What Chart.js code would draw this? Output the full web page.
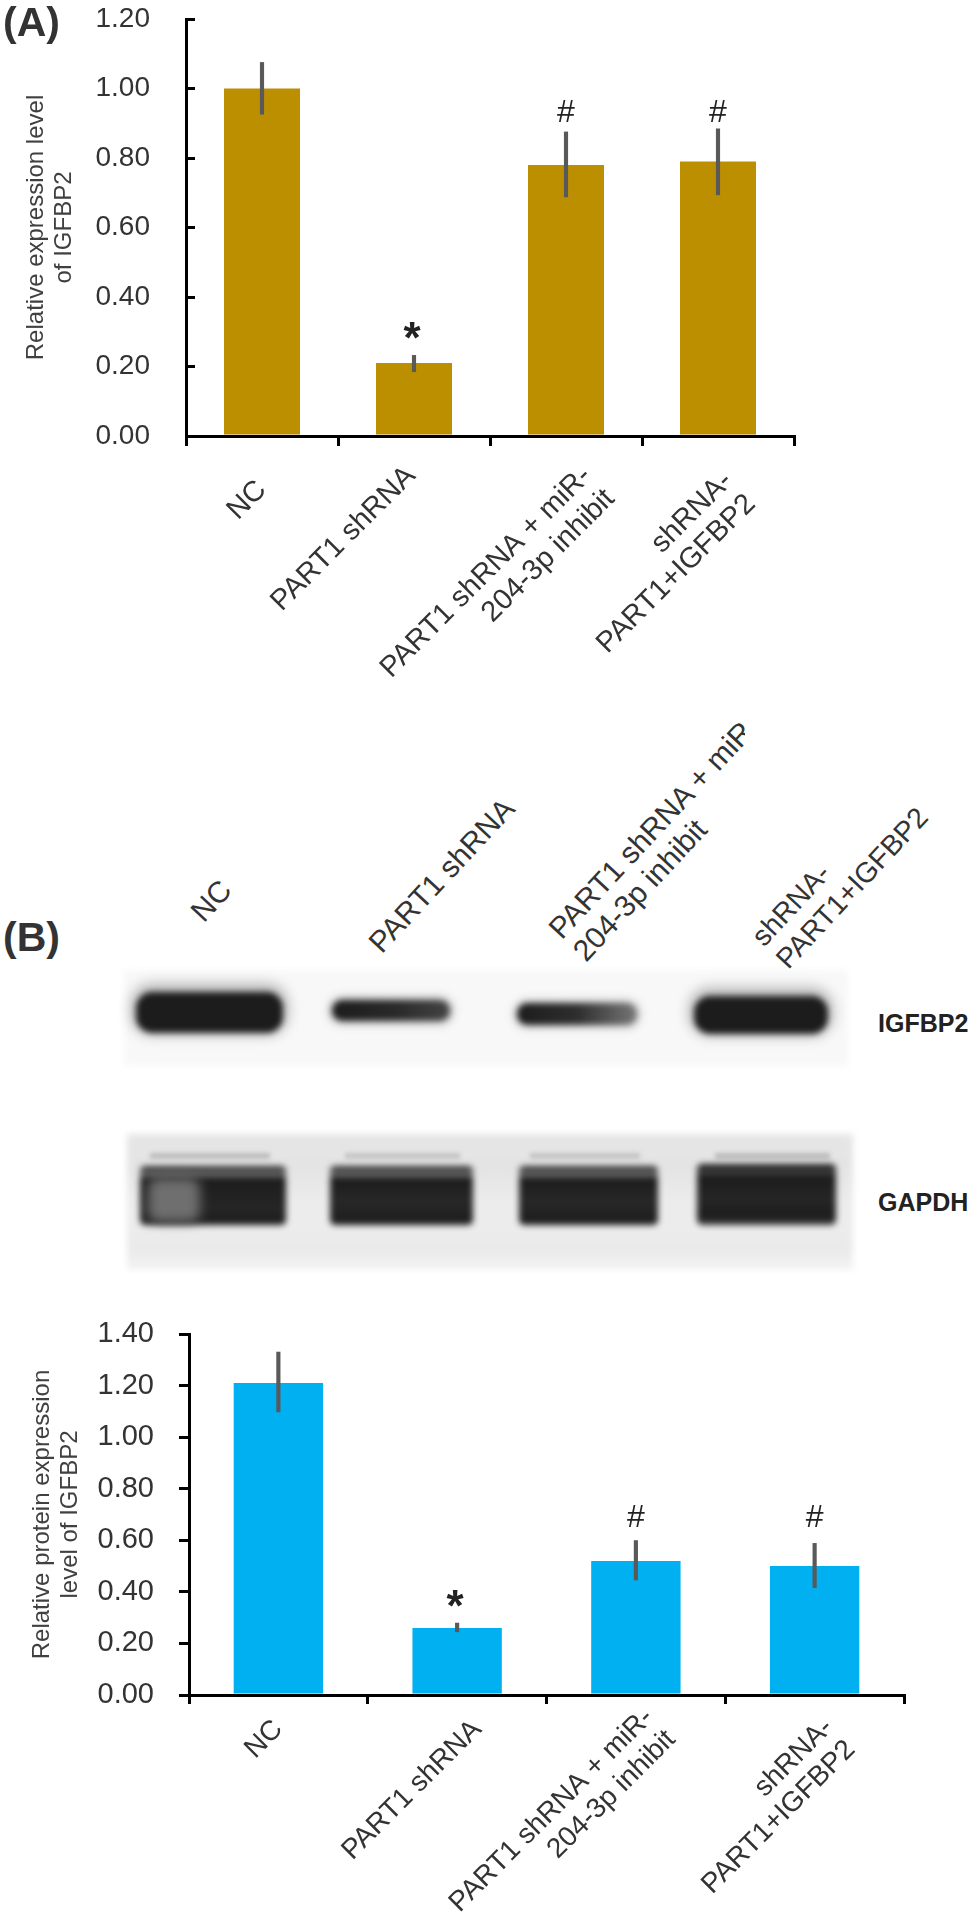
<!DOCTYPE html>
<html><head><meta charset="utf-8">
<script src="https://cdn.jsdelivr.net/npm/chart.js@4"></script>
<style>
html,body{margin:0;padding:0;background:#fff;width:970px;height:1926px;overflow:hidden;font-family:"Liberation Sans",Arial,sans-serif}
#page{position:relative;width:970px;height:1926px;overflow:hidden}
canvas{position:absolute;left:0}
.panel{position:absolute;left:3px;font-weight:bold;font-size:41px;color:#333;line-height:44px}
.lane{position:absolute;font-size:30px;line-height:33px;color:#333;white-space:nowrap;transform-origin:0 0;transform:rotate(-47deg)}
.prot{position:absolute;left:878px;font-size:25px;font-weight:bold;color:#222;line-height:28px}
.bg,.band,.fx{position:absolute}
.bg{filter:blur(3px)}
.band{filter:blur(3px);border-radius:12px;background:#1c1c1c;box-shadow:0 -3px 12px 5px rgba(0,0,0,.28)}
.fx{filter:blur(2px)}
</style></head><body><div id="page">
<canvas id="chartA" width="970" height="700" style="top:0"></canvas>
<div class="panel" style="top:0">(A)</div>
<div class="panel" style="top:915px">(B)</div>

<div class="bg" style="left:124px;top:970px;width:724px;height:96px;background:#f8f8f8"></div>
<div class="band" style="left:136px;top:992px;width:147px;height:41px;border-radius:16px"></div>
<div class="band" style="left:332px;top:1000px;width:118px;height:21px;background:linear-gradient(90deg,#1c1c1c,#2a2a2a 55%,#444);box-shadow:0 0 7px 3px rgba(0,0,0,.25);border-radius:10px"></div>
<div class="band" style="left:517px;top:1003px;width:120px;height:22px;background:linear-gradient(90deg,#1c1c1c,#2e2e2e 50%,#777);box-shadow:0 0 7px 3px rgba(0,0,0,.2);border-radius:10px"></div>
<div class="band" style="left:694px;top:996px;width:134px;height:38px;border-radius:16px"></div>

<div class="bg" style="left:127px;top:1134px;width:726px;height:136px;background:linear-gradient(#e6e6e6,#e4e4e4 25%,#ececec 50%,#ececec 70%,#eaeaea 85%,#f4f4f4)"></div>
<div class="fx" style="left:150px;top:1153px;width:120px;height:6px;background:#bdbdbd"></div>
<div class="fx" style="left:345px;top:1153px;width:115px;height:6px;background:#c4c4c4"></div>
<div class="fx" style="left:530px;top:1153px;width:110px;height:6px;background:#c4c4c4"></div>
<div class="fx" style="left:715px;top:1153px;width:115px;height:6px;background:#bbb"></div>
<div class="band" style="left:140px;top:1166px;width:146px;height:59px;border-radius:5px;box-shadow:none;background:linear-gradient(#333,#333 8%,#8a8a8a 12%,#1c1c1c 22%,#262626 70%,#1c1c1c)"></div>
<div class="band" style="left:330px;top:1166px;width:143px;height:59px;border-radius:5px;box-shadow:none;background:linear-gradient(#333,#333 8%,#8a8a8a 12%,#1c1c1c 22%,#282828 60%,#1c1c1c)"></div>
<div class="band" style="left:519px;top:1166px;width:139px;height:59px;border-radius:5px;box-shadow:none;background:linear-gradient(#333,#333 8%,#8a8a8a 12%,#1c1c1c 22%,#282828 60%,#1c1c1c)"></div>
<div class="band" style="left:697px;top:1164px;width:139px;height:61px;border-radius:5px;box-shadow:none;background:linear-gradient(#1c1c1c,#1c1c1c 8%,#555 11%,#1c1c1c 20%,#262626 60%,#1c1c1c 85%,#3c3c3c)"></div>
<div class="band" style="left:148px;top:1178px;width:52px;height:44px;border-radius:10px;box-shadow:none;filter:blur(6px);background:#6f6f6f"></div>

<div class="lane" style="left:184px;top:905px">NC</div>
<div class="lane" style="left:362px;top:936px">PART1 shRNA</div>
<div style="position:absolute;left:0;top:700px;width:745px;height:320px;overflow:hidden">
  <div class="lane" style="left:542px;top:222px">PART1 shRNA + miR-<br>204-3p inhibit</div>
</div>
<div class="lane" style="left:745px;top:930px;font-size:28.5px">shRNA-<br>PART1+IGFBP2</div>
<div class="prot" style="top:1009px">IGFBP2</div>
<div class="prot" style="top:1188px">GAPDH</div>

<canvas id="chartB" width="970" height="626" style="top:1300px"></canvas>
</div>
<script>
// ---- data ----
const categories = [
  "NC",
  "PART1 shRNA",
  ["PART1 shRNA + miR-", "204-3p inhibit"],
  ["shRNA-", "PART1+IGFBP2"]
];
const rnaValues  = [1.00, 0.21, 0.78, 0.79];
const rnaLow     = [0.926, 0.185, 0.688, 0.694];
const rnaHigh    = [1.075, 0.232, 0.875, 0.884];
const rnaMarks   = ["", "*", "#", "#"];
const rnaMarkY   = [null, 0.294, 0.93, 0.93];

const protValues = [1.21, 0.26, 0.52, 0.50];
const protLow    = [1.098, 0.245, 0.446, 0.416];
const protHigh   = [1.33, 0.279, 0.599, 0.588];
const protMarks  = ["", "*", "#", "#"];
const protMarkY  = [null, 0.362, 0.684, 0.684];

const rnaTitle  = ["Relative expression level", "of IGFBP2"];
const protTitle = ["Relative protein expression", "level of IGFBP2"];
const FONT = '"Liberation Sans", Arial, sans-serif';

const marksPlugin = {
  id: 'marks',
  afterLayout(chart, args, o) {
    chart.scales.x.getLabelItems().forEach((it, i) => {
      it.options.translation[0] += o.shift[i][0];
      it.options.translation[1] += o.shift[i][1];
    });
  },
  afterDatasetsDraw(chart, args, o) {
    const {ctx, scales:{x, y}} = chart;
    ctx.save();
    ctx.fillStyle = '#222';
    ctx.textAlign = 'center';
    ctx.textBaseline = 'middle';
    o.marks.forEach((m, i) => {
      if (!m) return;
      ctx.font = (m === '*' ? 'bold 44px ' : '32px ') + FONT;
      ctx.fillText(m, x.getPixelForValue(i) + (m === '*' ? -2 : 0), y.getPixelForValue(o.at[i]) + (m === '*' ? 7 : 0));
    });
    ctx.restore();
  }
};

function makeChart(id, cfg) {
  return new Chart(document.getElementById(id), {
    type: 'bar',
    plugins: [marksPlugin],
    data: {
      labels: categories,
      datasets: [
        { data: cfg.low.map((l, i) => [l, cfg.high[i]]), backgroundColor: '#595959',
          barThickness: 3.5, grouped: false, order: 0 },
        { data: cfg.values, backgroundColor: cfg.color,
          categoryPercentage: 1, barPercentage: 0.5, grouped: false, order: 1 }
      ]
    },
    options: {
      responsive: false, animation: false, devicePixelRatio: 1,
      layout: { padding: { left: cfg.padLeft, top: cfg.top, right: cfg.right, bottom: 0 } },
      plugins: { legend: {display: false}, tooltip: {enabled: false}, title: {display: false},
                 marks: { marks: cfg.marks, at: cfg.markY, shift: cfg.shift } },
      scales: {
        x: {
          offset: true,
          border: { color: '#000', width: 3, z: 1 },
          grid: { offset: true, drawOnChartArea: false, color: '#000', lineWidth: 3, tickLength: cfg.xTick, z: 1 },
          ticks: { autoSkip: false, minRotation: 45, maxRotation: 45, color: '#333', padding: cfg.xPad,
                   font: { family: FONT, size: cfg.xFont, lineHeight: 1.12 } },
          afterFit: s => { s.height = cfg.xHeight; }
        },
        y: {
          min: 0, max: cfg.max,
          border: { color: '#000', width: 3, z: 1 },
          grid: { drawOnChartArea: false, color: '#000', lineWidth: 3, tickLength: cfg.yTick, z: 1 },
          ticks: { stepSize: 0.2, color: '#333', padding: cfg.yPad,
                   font: { family: FONT, size: cfg.yFont }, callback: v => v.toFixed(2) },
          title: { display: true, text: cfg.title, color: '#404040', padding: 0,
                   font: { family: FONT, size: 24, lineHeight: 1.15 } },
          afterFit: s => { s.width = cfg.yWidth; s.paddingTop = 0; s.paddingBottom = 0; }
        }
      }
    }
  });
}

makeChart('chartA', {
  values: rnaValues, low: rnaLow, high: rnaHigh, marks: rnaMarks, markY: rnaMarkY,
  color: '#BC8F00', max: 1.2, title: rnaTitle,
  padLeft: 23, top: 19, right: 176, yWidth: 163, xHeight: 264,
  xTick: 10, xPad: 14, yTick: -9, yPad: 45, xFont: 29, yFont: 28,
  shift: [[0, 14], [-3, 0], [21, 0], [10, 5]]
});
makeChart('chartB', {
  values: protValues, low: protLow, high: protHigh, marks: protMarks, markY: protMarkY,
  color: '#00B0F0', max: 1.4, title: protTitle,
  padLeft: 29, top: 34, right: 66, yWidth: 160, xHeight: 231,
  xTick: 9, xPad: 10, yTick: 10, yPad: 25, xFont: 28, yFont: 29,
  shift: [[0, 0], [20, 0], [13, -12], [14, -2]]
});
</script></body></html>
